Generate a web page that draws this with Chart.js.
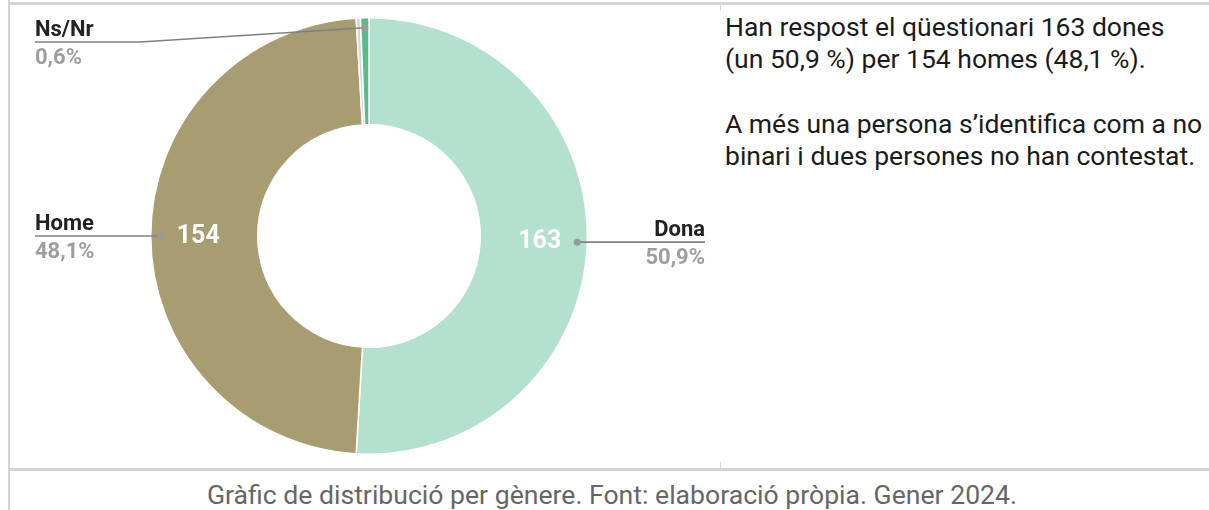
<!DOCTYPE html>
<html>
<head>
<meta charset="utf-8">
<script src="https://cdn.jsdelivr.net/npm/chart.js@4/dist/chart.umd.min.js"></script>
<style>
  html, body { margin: 0; padding: 0; background: #fff; }
  body { width: 1209px; height: 510px; position: relative; overflow: hidden; font-family: Roboto, "Noto Sans", sans-serif; }
  .line { position: absolute; background: #d4d4d4; }
  #chartBox { position: absolute; left: 0; top: 0; width: 720px; height: 470px; }
  #note { position: absolute; left: 725px; top: 11px; font-size: 26.5px; line-height: 32px; color: #1b1b1b; white-space: nowrap; }
  #note p { margin: 0 0 33px 0; }
  #caption { position: absolute; left: 15px; right: 0; top: 479px; text-align: center; font-size: 26.6px; color: #666; }
</style>
</head>
<body>
<div class="line" style="left:9px; top:2px; width:1200px; height:3px;"></div>
<div class="line" style="left:8px; top:0; width:2px; height:510px;"></div>
<div class="line" style="left:9px; top:468px; width:1200px; height:3px;"></div>
<div class="line" style="left:720px; top:4px; width:1px; height:7px;"></div>
<div class="line" style="left:720px; top:462px; width:1px; height:7px;"></div>

<div id="chartBox"><canvas id="genderChart" width="720" height="470"></canvas></div>

<div id="note">
  <p>Han respost el qüestionari 163 dones<br>(un 50,9 %) per 154 homes (48,1 %).</p>
  <p>A més una persona s’identifica com a no<br>binari i dues persones no han contestat.</p>
</div>
<div id="caption">Gràfic de distribució per gènere. Font: elaboració pròpia. Gener 2024.</div>

<script>
// data
const categories = ["Dona", "Home", "No binari", "Ns/Nr"];
const counts = [163, 154, 1, 2];
const pctLabels = ["50,9%", "48,1%", "0,3%", "0,6%"];
const sliceColors = ["#b3e1ce", "#a89c71", "#d6d6d6", "#58bb88"];
const showLabel = [true, true, false, true];
const showValue = [true, true, false, false];

// callout labels drawn from the arc geometry
const calloutPlugin = {
  id: "callouts",
  afterDatasetsDraw(chart) {
    const ctx = chart.ctx;
    const meta = chart.getDatasetMeta(0);
    const leftX = 35, rightX = 705, minY = 42;
    ctx.save();
    meta.data.forEach((arc, i) => {
      const p = arc.getProps(["x", "y", "startAngle", "endAngle", "innerRadius", "outerRadius"], true);
      const mid = (p.startAngle + p.endAngle) / 2;
      const cos = Math.cos(mid), sin = Math.sin(mid);

      if (showValue[i]) {
        const r = (p.innerRadius + p.outerRadius) / 2 + 6;
        ctx.fillStyle = "#ffffff";
        ctx.font = "bold 25px Roboto";
        ctx.textAlign = "center";
        ctx.textBaseline = "middle";
        ctx.fillText(String(counts[i]), p.x + cos * r, p.y + sin * r + 1);
      }
      if (!showLabel[i]) return;

      const dr = p.outerRadius - 10;
      const dx = p.x + cos * dr, dy = p.y + sin * dr;
      const right = cos > 0.01;
      const ly = Math.max(dy, minY);
      const endX = right ? rightX : leftX;

      ctx.strokeStyle = "#808080";
      ctx.lineWidth = 1.6;
      ctx.beginPath();
      ctx.moveTo(dx, dy);
      if (Math.abs(ly - dy) > 0.5) {
        ctx.lineTo(140, ly);
      }
      ctx.lineTo(endX, ly);
      ctx.stroke();

      ctx.fillStyle = "#9a9a9a";
      ctx.beginPath();
      ctx.arc(dx, dy, 3.5, 0, Math.PI * 2);
      ctx.fill();

      ctx.textAlign = right ? "right" : "left";
      ctx.textBaseline = "alphabetic";
      ctx.font = "bold 22px Roboto";
      ctx.fillStyle = "#222222";
      ctx.fillText(categories[i], endX, ly - 6);
      ctx.fillStyle = "#9e9e9e";
      ctx.fillText(pctLabels[i], endX, ly + 22);
    });
    ctx.restore();
  }
};

new Chart(document.getElementById("genderChart"), {
  type: "doughnut",
  data: {
    labels: categories,
    datasets: [{
      data: counts,
      backgroundColor: sliceColors,
      borderColor: "#ffffff",
      borderWidth: 1.5
    }]
  },
  options: {
    responsive: false,
    animation: false,
    cutout: "51%",
    layout: { padding: { left: 150, right: 132, top: 17, bottom: 15 } },
    plugins: {
      legend: { display: false },
      tooltip: { enabled: false }
    }
  },
  plugins: [calloutPlugin]
});
</script>
</body>
</html>
